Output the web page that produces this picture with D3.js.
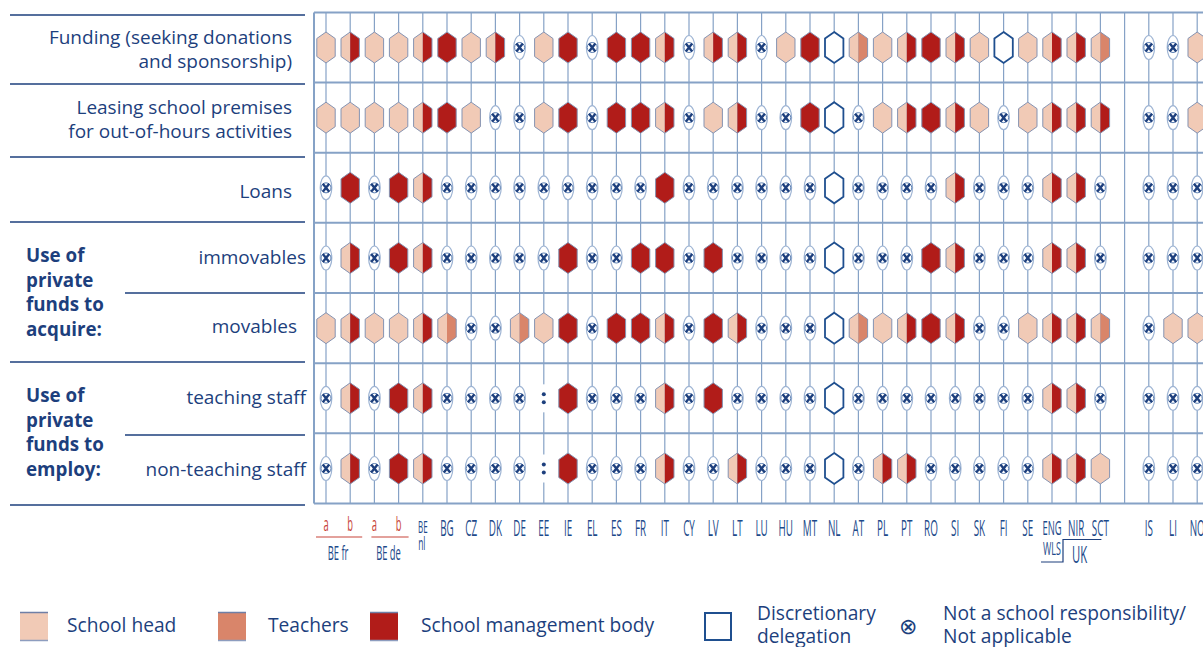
<!DOCTYPE html>
<html>
<head>
<meta charset="utf-8">
<script src="https://cdn.jsdelivr.net/npm/d3@7"></script>
<style>
  body { margin: 0; background: #fff; }
  svg { display: block; font-family: "Open Sans", sans-serif; }
  .lbl { fill: #1d3f7d; font-size: 19px; }
  .grp { fill: #1d3f7d; font-size: 18.8px; font-weight: bold; }
  .cty { fill: #1d4a8a; font-size: 21px; font-family: "Open Sans", sans-serif; }
  .leg { fill: #1d3f7d; font-size: 19.2px; }
</style>
</head>
<body>
<svg id="chart" width="1203" height="647"></svg>
<script>
'use strict';

// column labels (index 33 is the gap before the EFTA countries)
var countries = ["a", "b", "a", "b", "BE", "BG", "CZ", "DK", "DE", "EE", "IE", "EL", "ES", "FR", "IT",
                 "CY", "LV", "LT", "LU", "HU", "MT", "NL", "AT", "PL", "PT", "RO", "SI", "SK", "FI",
                 "SE", "ENG", "NIR", "SCT", "", "IS", "LI", "NO"];

var rowKeys = ["funding", "leasing", "loans", "immovables", "movables", "teaching", "nonTeaching"];

// H school head, T teachers, M management body, HM / HT split, D discretionary,
// X not a school responsibility, ":" not available, null = gap
var funding = ["H", "HM", "H", "H", "HM", "M", "H", "HM", "X", "H", "M", "X", "M", "M", "HM", "X", "HM", "HM",
               "X", "H", "M", "D", "HT", "H", "HM", "M", "HM", "H", "D", "H", "HM", "HM", "HT", null, "X", "X", "H"];
var leasing = ["H", "H", "H", "H", "HM", "M", "H", "X", "X", "H", "M", "X", "M", "M", "HM", "X", "H", "HM",
               "X", "X", "M", "D", "X", "H", "HM", "M", "HM", "H", "X", "H", "HM", "HM", "HM", null, "X", "X", "H"];
var loans = ["X", "M", "X", "M", "HM", "X", "X", "X", "X", "X", "X", "X", "X", "X", "M", "X", "X", "X",
             "X", "X", "X", "D", "X", "X", "X", "X", "HM", "X", "X", "X", "HM", "HM", "X", null, "X", "X", "X"];
var immovables = ["X", "HM", "X", "M", "HM", "X", "X", "X", "X", "X", "M", "X", "X", "M", "M", "X", "M", "X",
                  "X", "X", "X", "D", "X", "X", "X", "M", "HM", "X", "X", "X", "HM", "HM", "X", null, "X", "X", "X"];
var movables = ["H", "HM", "H", "H", "HM", "HT", "X", "X", "HT", "H", "M", "X", "M", "M", "HM", "X", "M", "HM",
                "X", "X", "X", "D", "HT", "H", "HM", "M", "HM", "X", "X", "H", "HM", "HM", "HT", null, "X", "H", "H"];
var teaching = ["X", "HM", "X", "M", "HM", "X", "X", "X", "X", ":", "M", "X", "X", "X", "HM", "X", "M", "X",
                "X", "X", "X", "D", "X", "X", "X", "X", "X", "X", "X", "X", "HM", "HM", "X", null, "X", "X", "X"];
var nonTeaching = ["X", "HM", "X", "M", "HM", "X", "X", "X", "X", ":", "M", "X", "X", "X", "HM", "X", "X", "HM",
                   "X", "X", "X", "D", "X", "HM", "HM", "X", "X", "X", "X", "X", "HM", "HM", "H", null, "X", "X", "X"];

var legendItems = [
    { key: "H", label: "School head" },
    { key: "T", label: "Teachers" },
    { key: "M", label: "School management body" },
    { key: "D", label: ["Discretionary", "delegation"] },
    { key: "X", label: ["Not a school responsibility/", "Not applicable"] }
];

var colours = { H: "#f1cab6", T: "#d9856a", M: "#b11c19" };
var lineBlue = "#86a2c6";
var darkBlue = "#1d3f7d";

var rows = [funding, leasing, loans, immovables, movables, teaching, nonTeaching];

var svg = d3.select("#chart");

var x = d3.scaleLinear().domain([0, countries.length - 1]).range([326, 1197.2]);
var y = d3.scalePoint().domain(rowKeys).range([47.5, 468.5]);
var halfRow = 35;

// grid
var grid = svg.append("g");
grid.selectAll("line.v")
    .data(d3.range(countries.length))
    .enter().append("line")
    .attr("x1", function(i) { return x(i); })
    .attr("x2", function(i) { return x(i); })
    .attr("y1", y(rowKeys[0]) - halfRow)
    .attr("y2", y(rowKeys[6]) + halfRow)
    .attr("stroke", lineBlue)
    .attr("stroke-width", 1.2);

var bounds = [y(rowKeys[0]) - halfRow].concat(rowKeys.map(function(k) { return y(k) + halfRow; }));
grid.selectAll("line.h")
    .data(bounds)
    .enter().append("line")
    .attr("x1", 314).attr("x2", 1203)
    .attr("y1", function(d) { return d; })
    .attr("y2", function(d) { return d; })
    .attr("stroke", lineBlue)
    .attr("stroke-width", 2);
grid.append("line")
    .attr("x1", 314).attr("x2", 314)
    .attr("y1", bounds[0]).attr("y2", bounds[bounds.length - 1])
    .attr("stroke", lineBlue).attr("stroke-width", 2);

// symbols
var hw = 9.2, hh = 15.5, hc = 6.5;
var hexPath = "M0," + (-hh) + "L" + hw + "," + (-hh + hc) + "L" + hw + "," + (hh - hc) + "L0," + hh +
              "L" + (-hw) + "," + (hh - hc) + "L" + (-hw) + "," + (-hh + hc) + "Z";
var leftHalf = "M0," + (-hh) + "L0," + hh + "L" + (-hw) + "," + (hh - hc) + "L" + (-hw) + "," + (-hh + hc) + "Z";
var rightHalf = "M0," + (-hh) + "L" + hw + "," + (-hh + hc) + "L" + hw + "," + (hh - hc) + "L0," + hh + "Z";

function drawCross(g) {
    g.append("ellipse").attr("rx", 5.8).attr("ry", 12)
        .attr("fill", "#fff").attr("stroke", "#9fb5d4").attr("stroke-width", 1.2);
    g.append("circle").attr("r", 5)
        .attr("fill", "none").attr("stroke", "#5a7eb2").attr("stroke-width", 1);
    g.append("path").attr("d", "M-3.2,-4L3.2,4M3.2,-4L-3.2,4")
        .attr("stroke", darkBlue).attr("stroke-width", 2.4);
}

function drawSymbol(g, code) {
    if (code === "X") { drawCross(g); return; }
    if (code === ":") {
        g.append("rect").attr("x", -12).attr("y", -14).attr("width", 24).attr("height", 28).attr("fill", "#fff");
        g.append("circle").attr("cy", -4).attr("r", 2).attr("fill", darkBlue);
        g.append("circle").attr("cy", 4).attr("r", 2).attr("fill", darkBlue);
        return;
    }
    if (code === "D") {
        g.append("path").attr("d", hexPath).attr("fill", "#fff")
            .attr("stroke", "#1f4f8f").attr("stroke-width", 1.8);
        return;
    }
    if (code.length === 2) {
        g.append("path").attr("d", leftHalf).attr("fill", colours[code[0]]);
        g.append("path").attr("d", rightHalf).attr("fill", colours[code[1]]);
    } else {
        g.append("path").attr("d", hexPath).attr("fill", colours[code]);
    }
    g.append("path").attr("d", hexPath).attr("fill", "none")
        .attr("stroke", "#8593b2").attr("stroke-width", 1);
}

rows.forEach(function(row, r) {
    row.forEach(function(code, i) {
        if (code === null) return;
        var g = svg.append("g").attr("transform", "translate(" + x(i) + "," + y(rowKeys[r]) + ")");
        drawSymbol(g, code);
    });
});

// left labels
var left = svg.append("g");
var sepLines = [[15, 10], [84, 10], [157, 10], [222, 10], [293, 125], [362, 10], [435, 125], [505, 10]];
left.selectAll("line")
    .data(sepLines)
    .enter().append("line")
    .attr("x1", function(d) { return d[1]; }).attr("x2", 305)
    .attr("y1", function(d) { return d[0]; }).attr("y2", function(d) { return d[0]; })
    .attr("stroke", darkBlue).attr("stroke-width", 1.6);

var rightLabels = [
    { t: "Funding (seeking donations", x: 292, y: 44 },
    { t: "and sponsorship)", x: 292, y: 68 },
    { t: "Leasing school premises", x: 292, y: 114 },
    { t: "for out-of-hours activities", x: 292, y: 138 },
    { t: "Loans", x: 292, y: 198 },
    { t: "immovables", x: 306, y: 264 },
    { t: "movables", x: 297, y: 333 },
    { t: "teaching staff", x: 306, y: 404 },
    { t: "non-teaching staff", x: 306, y: 476 }
];
left.selectAll("text.lbl")
    .data(rightLabels)
    .enter().append("text")
    .attr("class", "lbl")
    .attr("text-anchor", "end")
    .attr("x", function(d) { return d.x; })
    .attr("y", function(d) { return d.y; })
    .text(function(d) { return d.t; });

var groupLabels = [
    { lines: ["Use of", "private", "funds to", "acquire:"], y: 262 },
    { lines: ["Use of", "private", "funds to", "employ:"], y: 402 }
];
groupLabels.forEach(function(gl) {
    gl.lines.forEach(function(t, k) {
        left.append("text").attr("class", "grp")
            .attr("x", 26).attr("y", gl.y + k * 24.5).text(t);
    });
});

// country labels, squeezed horizontally like the condensed face of the original
var axis = svg.append("g");
var squeeze = 0.47;
function narrowText(tx, ty, t, size) {
    var el = axis.append("text").attr("class", "cty")
        .attr("transform", "translate(" + tx + "," + ty + ") scale(" + squeeze + ",1)")
        .attr("text-anchor", "middle").text(t);
    if (size) el.style("font-size", size + "px");
    return el;
}
countries.forEach(function(c, i) {
    if (c === "") return;
    if (i < 4) {
        narrowText(x(i), 531, c, 20).style("fill", "#c8443a");
    } else if (i === 4) {
        narrowText(x(i), 533, c, 17);
        narrowText(x(i) - 1, 550, "nl", 18);
    } else if (c === "ENG") {
        narrowText(x(i), 535, c, 20);
        narrowText(x(i), 555, "WLS", 19);
    } else {
        narrowText(x(i), 536, c);
    }
});
var redLine = "#c8443a";
axis.append("line").attr("x1", x(0) - 10).attr("x2", x(1) + 12).attr("y1", 537).attr("y2", 537)
    .attr("stroke", redLine).attr("stroke-width", 1.2);
axis.append("line").attr("x1", x(2) - 3).attr("x2", x(3) + 10).attr("y1", 537).attr("y2", 537)
    .attr("stroke", redLine).attr("stroke-width", 1.2);
narrowText((x(0) + x(1)) / 2, 560, "BE fr", 20);
narrowText((x(2) + x(3)) / 2 + 2, 560, "BE de", 20);
axis.append("path")
    .attr("d", "M" + (x(30) - 11) + ",562H" + (x(30) + 11) + "V539.5H" + (x(32) + 1))
    .attr("fill", "none").attr("stroke", darkBlue).attr("stroke-width", 1.2);
narrowText(1079.5, 563, "UK", 24);

// legend
var legend = svg.append("g");
var legendX = [20, 218, 370, 704, 908];
legendItems.forEach(function(item, k) {
    var g = legend.append("g").attr("transform", "translate(" + legendX[k] + ",612)");
    var tx = 47;
    if (item.key === "X") {
        g.append("text").attr("x", 0).attr("y", 22).style("font-size", "22px")
            .attr("fill", darkBlue).attr("text-anchor", "middle").text("\u2297");
        tx = 35;
    } else if (item.key === "D") {
        g.append("rect").attr("x", 1).attr("y", 1).attr("width", 26).attr("height", 27)
            .attr("fill", "#fff").attr("stroke", "#1f4f8f").attr("stroke-width", 2);
        tx = 53;
    } else {
        g.append("rect").attr("width", 28).attr("height", 29).attr("fill", colours[item.key]);
        g.append("line").attr("x1", 0).attr("x2", 28).attr("y1", 0.5).attr("y2", 0.5)
            .attr("stroke", "#6f7fa6").attr("stroke-width", 1.5);
        g.append("line").attr("x1", 0).attr("x2", 28).attr("y1", 28.5).attr("y2", 28.5)
            .attr("stroke", "#8d9dbf").attr("stroke-width", 1.5);
        tx = item.key === "H" ? 47 : (item.key === "T" ? 50 : 51);
    }
    if (Array.isArray(item.label)) {
        item.label.forEach(function(t, j) {
            g.append("text").attr("class", "leg").attr("x", tx).attr("y", 8 + j * 23).text(t);
        });
    } else {
        g.append("text").attr("class", "leg").attr("x", tx).attr("y", 20).text(item.label);
    }
});
</script>
</body>
</html>
